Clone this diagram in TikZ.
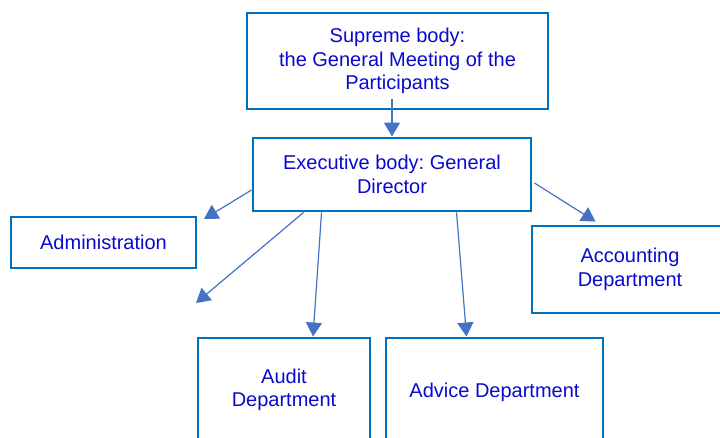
\documentclass[tikz,border=0pt]{standalone}
\usepackage{fontspec}
\setmainfont{Liberation Sans}
\usetikzlibrary{arrows.meta,calc}
\definecolor{boxblue}{HTML}{0070C0}
\definecolor{arrblue}{HTML}{4472C4}
\definecolor{txtblue}{RGB}{10,10,204}
\frenchspacing
\begin{document}
\begin{tikzpicture}[x=0.75pt,y=-0.75pt,
  box/.style={draw=boxblue,line width=2.2pt,fill=white,rectangle,align=center,
    text=txtblue,font=\fontsize{15}{17.6}\selectfont\frenchspacing,inner sep=0pt},
  arr/.style={draw=arrblue,line width=0.9pt,-{Triangle[length=10.5pt,width=12pt]}}]
\useasboundingbox (0,0) rectangle (720,437);
\node[box,minimum width=301*0.75pt,minimum height=96*0.75pt] (sup) at (397.5,61)
  {Supreme body:\\the General Meeting of the\\Participants};
\node[box,minimum width=278*0.75pt,minimum height=73*0.75pt] (exec) at (392,174.5)
  {Executive body: General\\Director};
\node[box,minimum width=185*0.75pt,minimum height=51*0.75pt] (adm) at (103.5,242.5)
  {Administration};
\node[box,minimum width=196*0.75pt,minimum height=87*0.75pt] (acc) at (630,269.5)
  {Accounting\\Department};
\node[box,minimum width=172*0.75pt,minimum height=104*0.75pt] (aud) at (284,390)
  {Audit\\Department};
\node[box,minimum width=217*0.75pt,minimum height=108*0.75pt] (adv) at (494.5,392)
  {Advice Department};
\coordinate (admtip) at (204,219);
\coordinate (freetip) at (196,303);
\draw[arr] ($(sup.south -| exec.north)+(0,-11)$) -- (exec.north);
\draw[arr] ($(exec.west)+(0,15.5)$) -- (admtip);
\draw[arr] ($(exec.south west)+(52,0)$) -- (freetip);
\draw[arr] ($(exec.south west)+(70,0)$) -- ($(aud.north)+(29,0)$);
\draw[arr] ($(exec.south west)+(205,0)$) -- ($(adv.north west)+(82,0)$);
\draw[arr] ($(exec.east)+(2,8.5)$) -- ($(acc.north west)+(65,-3)$);
\end{tikzpicture}
\end{document}
